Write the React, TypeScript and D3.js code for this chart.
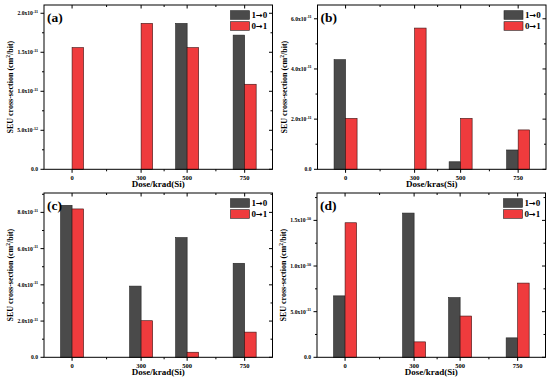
import * as d3 from "d3";

// dose groups (krad(Si)) shared by all four panels
const doses = [0, 300, 500, 750];
const doseMinor = [150, 400, 625];

// SEU cross-section values (cm^2/bit), 1->0 and 0->1 per panel
const grayA = [0, 0, 1.87e-11, 1.72e-11];
const redA = [1.56e-11, 1.87e-11, 1.56e-11, 1.09e-11];
const grayB = [4.37e-11, 0, 0.3e-11, 0.77e-11];
const redB = [2.03e-11, 5.63e-11, 2.03e-11, 1.57e-11];
const grayC = [8.39e-11, 3.93e-11, 6.61e-11, 5.19e-11];
const redC = [8.19e-11, 2.02e-11, 0.28e-11, 1.39e-11];
const grayD = [6.73e-11, 15.8e-11, 6.54e-11, 2.13e-11];
const redD = [14.74e-11, 1.69e-11, 4.52e-11, 8.13e-11];

// y axis ticks per panel
const yTicksA = [0, 5e-12, 1e-11, 1.5e-11, 2e-11];
const yTicksB = [0, 2e-11, 4e-11, 6e-11];
const yTicksC = [0, 2e-11, 4e-11, 6e-11, 8e-11];
const yTicksD = [0, 5e-11, 1e-10, 1.5e-10];

const seriesNames = [["1", "0"], ["0", "1"]];
const GRAY = "#4a4a4a";
const RED = "#ef3b3d";
const FONT = "'Liberation Serif', 'Times New Roman', serif";

function sciParts(v: number) {
  if (v === 0) return { mant: "0.0", exp: "" };
  const e = Math.floor(Math.log10(v) + 1e-9);
  const m = v / Math.pow(10, e);
  return { mant: `${m.toFixed(1)}x10`, exp: `${e}` };
}

type PanelProps = {
  x: number;
  y: number;
  letter: string;
  gray: number[];
  red: number[];
  yMax: number;
  yTicks: number[];
  xLabel: string;
};

function Panel({ x, y, letter, gray, red, yMax, yTicks, xLabel }: PanelProps) {
  const w = 228.5;
  const h = 164.3;
  const xScale = d3.scaleLinear().domain([-122, 871]).range([0, w]);
  const yScale = d3.scaleLinear().domain([0, yMax]).range([h, 0]);
  const barW = xScale(50) - xScale(0);
  const step = yTicks[1] - yTicks[0];
  const yMinor = d3.range(step / 2, yMax, step).filter((v) => !yTicks.some((t) => Math.abs(t - v) < step / 10));

  return (
    <g transform={`translate(${x}, ${y})`} fontFamily={FONT} fontWeight="bold">
      {doses.map((d, i) => (
        <g key={`bar-${d}`}>
          {gray[i] > 0 && (
            <rect
              x={xScale(d) - barW}
              y={yScale(gray[i])}
              width={barW}
              height={h - yScale(gray[i])}
              fill={GRAY}
              stroke="#222"
              strokeWidth={0.6}
            />
          )}
          {red[i] > 0 && (
            <rect
              x={xScale(d)}
              y={yScale(red[i])}
              width={barW}
              height={h - yScale(red[i])}
              fill={RED}
              stroke="#3a1010"
              strokeWidth={0.6}
            />
          )}
        </g>
      ))}

      <rect x={0} y={0} width={w} height={h} fill="none" stroke="#000" strokeWidth={1} />

      {doses.map((d) => (
        <g key={`xt-${d}`}>
          <line x1={xScale(d)} x2={xScale(d)} y1={h} y2={h + 3.5} stroke="#000" />
          <line x1={xScale(d)} x2={xScale(d)} y1={0} y2={3.5} stroke="#000" />
          <text x={xScale(d)} y={h + 10.5} textAnchor="middle" fontSize={6.5}>
            {d}
          </text>
        </g>
      ))}
      {doseMinor.map((d) => (
        <g key={`xm-${d}`}>
          <line x1={xScale(d)} x2={xScale(d)} y1={h} y2={h + 2} stroke="#000" />
          <line x1={xScale(d)} x2={xScale(d)} y1={0} y2={2} stroke="#000" />
        </g>
      ))}

      {yTicks.map((t) => {
        const { mant, exp } = sciParts(t);
        return (
          <g key={`yt-${t}`}>
            <line x1={-3.5} x2={0} y1={yScale(t)} y2={yScale(t)} stroke="#000" />
            <line x1={w - 3.5} x2={w} y1={yScale(t)} y2={yScale(t)} stroke="#000" />
            <text x={-6} y={yScale(t) + 2} textAnchor="end" fontSize={5.6}>
              {mant}
              {exp && (
                <tspan fontSize={4} dy={-2.5}>
                  {exp}
                </tspan>
              )}
            </text>
          </g>
        );
      })}
      {yMinor.map((t) => (
        <g key={`ym-${t}`}>
          <line x1={-2} x2={0} y1={yScale(t)} y2={yScale(t)} stroke="#000" />
          <line x1={w - 2} x2={w} y1={yScale(t)} y2={yScale(t)} stroke="#000" />
        </g>
      ))}

      <text x={3} y={16.5} fontSize={13.5}>
        ({letter})
      </text>

      <g transform={`translate(${w - 42}, 5.7)`}>
        {seriesNames.map(([from, to], i) => (
          <g key={`${from}${to}`} transform={`translate(0, ${i * 11})`}>
            <rect x={0} y={0} width={19} height={8.6} fill={i === 0 ? GRAY : RED} stroke="#222" strokeWidth={0.6} />
            <text x={21} y={7.6} fontSize={9}>
              {from}
              <tspan fontFamily="'DejaVu Sans'" fontSize={8}>{"\u2192"}</tspan>
              {to}
            </text>
          </g>
        ))}
      </g>

      <text x={w / 2} y={h + 18} textAnchor="middle" fontSize={9}>
        {xLabel}
      </text>
      <text
        transform={`translate(${-31}, ${h / 2}) rotate(-90)`}
        textAnchor="middle"
        fontSize={8}
      >
        SEU cross-section (cm
        <tspan fontSize={5.5} dy={-3}>2</tspan>
        <tspan dy={3}>/bit)</tspan>
      </text>
    </g>
  );
}

export default function App() {
  return (
    <svg
      width={550}
      height={378}
      style={{ position: "absolute", left: 0, top: 0, background: "#fff" }}
    >
      <rect width={550} height={378} fill="#fff" />
      <Panel x={44} y={5} letter="a" gray={grayA} red={redA} yMax={2.106e-11} yTicks={yTicksA} xLabel="Dose/krad(Si)" />
      <Panel x={317.5} y={5} letter="b" gray={grayB} red={redB} yMax={6.55e-11} yTicks={yTicksB} xLabel="Dose/kras(Si)" />
      <Panel x={44} y={193} letter="c" gray={grayC} red={redC} yMax={9.07e-11} yTicks={yTicksC} xLabel="Dose/krad(Si)" />
      <Panel x={317} y={193} letter="d" gray={grayD} red={redD} yMax={18.0e-11} yTicks={yTicksD} xLabel="Dose/krad(Si)" />
    </svg>
  );
}
